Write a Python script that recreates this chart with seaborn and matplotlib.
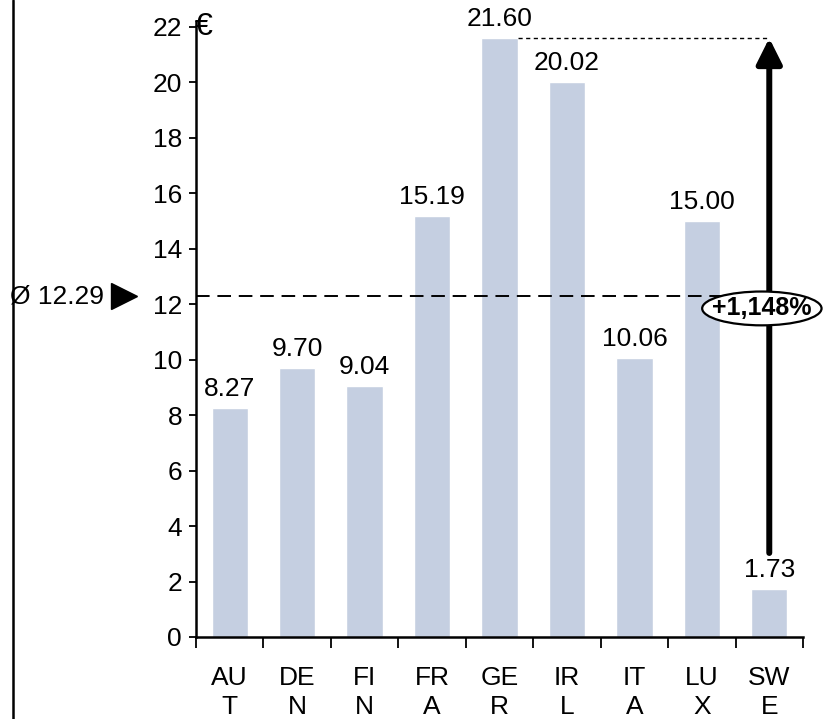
import matplotlib
matplotlib.use("Agg")
import matplotlib.pyplot as plt
import matplotlib.transforms as mtransforms
from matplotlib.lines import Line2D
from matplotlib.patches import Ellipse, FancyArrowPatch
import seaborn as sns
import pandas as pd

# Country codes (split over two lines as in the labels) and prices in EUR
countries = ["AUT", "DEN", "FIN", "FRA", "GER", "IRL", "ITA", "LUX", "SWE"]
tick_labels = ["AU\nT", "DE\nN", "FI\nN", "FR\nA", "GE\nR", "IR\nL", "IT\nA", "LU\nX", "SW\nE"]
prices = [8.27, 9.70, 9.04, 15.19, 21.60, 20.02, 10.06, 15.00, 1.73]
average = 12.29
spread_label = "+1,148%"
y_ticks = [0, 2, 4, 6, 8, 10, 12, 14, 16, 18, 20, 22]

df = pd.DataFrame({"country": countries, "price": prices})

sns.set_theme(style="white")
plt.rcParams["font.family"] = ["Liberation Sans", "DejaVu Sans"]
plt.rcParams["text.color"] = "black"
plt.rcParams["xtick.color"] = "black"
plt.rcParams["ytick.color"] = "black"

FS = 19
W, H = 830, 719
fig = plt.figure(figsize=(W / 100, H / 100), dpi=100)
ax = fig.add_axes([196 / W, 1 - 637 / H, (803 - 196) / W, (637 - 27) / H])

bar_color = "#C5CFE1"
sns.barplot(data=df, x="country", y="price", color=bar_color, width=0.54,
            saturation=1, ax=ax)

ax.set_xlim(-0.5, len(countries) - 0.5)
ax.set_ylim(0, 22)
ax.set_xlabel("")
ax.set_ylabel("")

# spines
for side in ("top", "right"):
    ax.spines[side].set_visible(False)
for side in ("left", "bottom"):
    ax.spines[side].set_color("black")
    ax.spines[side].set_linewidth(1.8)
ax.spines["left"].set_bounds(0, 22.2)

# y axis
ax.set_yticks(y_ticks)
ax.set_yticklabels([str(v) for v in y_ticks], fontsize=FS, color="black")
ax.tick_params(axis="y", which="major", direction="out", length=5, width=1.3,
               color="black", pad=5, left=True)

# x axis: labels at centres, tick marks at category boundaries
ax.set_xticks(range(len(countries)))
ax.set_xticklabels(tick_labels, fontsize=FS, linespacing=1.25, color="black")
ax.set_xticks([i - 0.5 for i in range(len(countries) + 1)], minor=True)
ax.tick_params(axis="x", which="major", length=0, pad=21)
ax.tick_params(axis="x", which="minor", direction="out", length=8, width=1.3,
               color="black", bottom=True)

# value labels above the bars
for i, v in enumerate(prices):
    ax.annotate(f"{v:.2f}", xy=(i, v), xytext=(0, 5), textcoords="offset points",
                ha="center", va="bottom", fontsize=FS, color="black")

# currency sign next to the top tick
ax.annotate("€", xy=(-0.5, 22), xytext=(-1, 0), textcoords="offset points",
            ha="left", va="center", fontsize=23, color="black")

# average line
ax.plot([-0.5, 7.5], [average, average], color="black", lw=1.4,
        linestyle=(0, (7, 4)))

blend = mtransforms.blended_transform_factory(ax.transAxes, ax.transData)
ax.text(-0.152, average, f"Ø {average:.2f}", transform=blend, ha="right",
        va="center", fontsize=FS, color="black")
ax.plot([-0.118], [average], marker=">", markersize=19, color="black",
        transform=blend, clip_on=False)

# spread between highest and lowest price
i_max = prices.index(max(prices))
i_min = prices.index(min(prices))
ax.plot([i_max + 0.27, i_min], [max(prices), max(prices)], color="black",
        lw=1.0, linestyle=(0, (3, 2.5)))
arrow = FancyArrowPatch((i_min, 3.03), (i_min, max(prices)),
                        arrowstyle="-|>,head_length=1.1,head_width=0.55",
                        mutation_scale=14, color="black", lw=4.3,
                        shrinkA=0, shrinkB=0)
ax.add_patch(arrow)

ell_x, ell_y = i_min - 0.11, 11.85
ell = Ellipse((ell_x, ell_y), width=1.77, height=1.22,
              facecolor="white", edgecolor="black", lw=1.6, zorder=5,
              clip_on=False)
ax.add_patch(ell)
ax.text(ell_x, ell_y, spread_label, ha="center", va="center",
        fontsize=18, fontweight="bold", color="black", zorder=6)

# left frame line
fig.add_artist(Line2D([12.5 / W, 12.5 / W], [0, 1], color="black", lw=1.8))

fig.savefig("out.png", dpi=100)
